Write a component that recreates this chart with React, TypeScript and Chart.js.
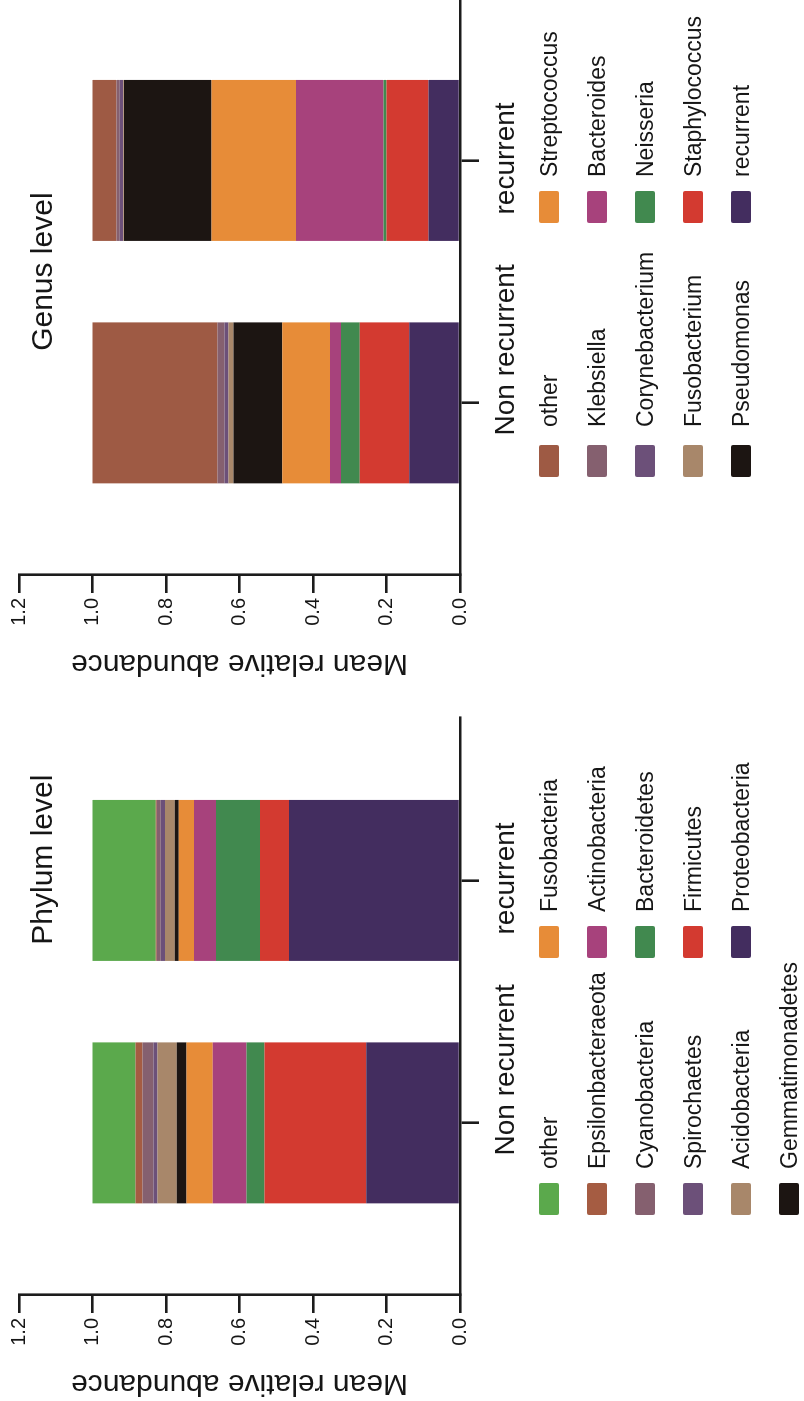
import React, { useEffect, useRef } from 'react';
import { Chart, registerables } from 'chart.js';

Chart.register(...registerables);

// ---------- data ----------
const CATEGORIES = ['Non recurrent', 'recurrent'];
const VALUE_TICKS = [0, 0.2, 0.4, 0.6, 0.8, 1.0, 1.2];

// stacked from the bottom (0) upwards
const PHYLUM_NAMES = [
  'Proteobacteria', 'Firmicutes', 'Bacteroidetes', 'Actinobacteria', 'Fusobacteria',
  'Gemmatimonadetes', 'Acidobacteria', 'Spirochaetes', 'Cyanobacteria', 'Epsilonbacteraeota', 'other',
];
const PHYLUM_NON_RECURRENT = [0.255, 0.277, 0.049, 0.092, 0.071, 0.027, 0.052, 0.011, 0.030, 0.019, 0.117];
const PHYLUM_RECURRENT = [0.465, 0.079, 0.120, 0.060, 0.041, 0.011, 0.027, 0.011, 0.011, 0.003, 0.172];
const PHYLUM_COLORS = [
  '#432d5f', '#d33a30', '#41894f', '#a7427c', '#e78c38',
  '#1c1512', '#a8876a', '#6c5079', '#85606f', '#a55c42', '#5ba94c',
];

const GENUS_NAMES = [
  'recurrent', 'Staphylococcus', 'Neisseria', 'Bacteroides', 'Streptococcus',
  'Pseudomonas', 'Fusobacterium', 'Corynebacterium', 'Klebsiella', 'other',
];
const GENUS_NON_RECURRENT = [0.138, 0.135, 0.051, 0.030, 0.130, 0.132, 0.014, 0.011, 0.019, 0.340];
const GENUS_RECURRENT = [0.086, 0.114, 0.008, 0.238, 0.230, 0.238, 0.002, 0.010, 0.009, 0.065];
const GENUS_COLORS = [
  '#432d5f', '#d33a30', '#41894f', '#a7427c', '#e78c38',
  '#1c1512', '#a8876a', '#6c5079', '#85606f', '#9e5a44',
];

// ---------- style ----------
const FAMILY = "'Liberation Sans', Arial, Helvetica, sans-serif";
const TEXT = '#161616';
const AXIS = '#1c1c1c';
const PANEL_W = 704;
const PANEL_H = 804;
const AREA_LEFT = 106;
const AREA_RIGHT = 683;
const AREA_TOP = 19;
const AREA_BOTTOM = 460;
const LABEL_SHIFT = [53, 2];

type PanelProps = {
  left: number;
  title: string;
  titleShift: number;
  names: string[];
  nonRec: number[];
  rec: number[];
  colors: string[];
  firstColumnCount: number;
  legendCols: { swatch: number; text: number }[];
};

function Panel(props: PanelProps) {
  const { left, title, titleShift, names, nonRec, rec, colors, firstColumnCount, legendCols } = props;
  const ref = useRef<HTMLCanvasElement>(null);

  useEffect(() => {
    const canvas = ref.current;
    if (!canvas) return;

    const overlay = {
      id: 'overlayText',
      afterDraw(chart: any) {
        const { ctx } = chart;
        const xs = chart.scales.x;
        ctx.save();
        ctx.fillStyle = TEXT;
        ctx.textAlign = 'center';
        ctx.textBaseline = 'alphabetic';
        ctx.font = `28px ${FAMILY}`;
        CATEGORIES.forEach((c, i) => {
          ctx.fillText(c, xs.getPixelForValue(i + 1) + LABEL_SHIFT[i], 514);
        });
        ctx.font = `30px ${FAMILY}`;
        const mid = (xs.getPixelForValue(1) + xs.getPixelForValue(2)) / 2;
        ctx.fillText(title, mid + titleShift, 52);
        ctx.restore();
      },
    };

    const chart = new Chart(canvas, {
      type: 'bar',
      data: {
        datasets: names.map((n, i) => ({
          label: n,
          data: [
            { x: 1, y: nonRec[i] },
            { x: 2, y: rec[i] },
          ],
          backgroundColor: colors[i],
          borderWidth: 0,
          categoryPercentage: 1,
          barPercentage: 0.664,
        })),
      },
      options: {
        responsive: false,
        animation: false,
        layout: { padding: { left: 0, right: PANEL_W - AREA_RIGHT, top: AREA_TOP, bottom: 0 } },
        plugins: { legend: { display: false }, tooltip: { enabled: false }, title: { display: false } },
        scales: {
          x: {
            type: 'linear',
            position: 'bottom',
            stacked: true,
            offset: false,
            min: 0.29,
            max: 2.67,
            afterBuildTicks: (s: any) => {
              s.ticks = CATEGORIES.map((_, i) => ({ value: i + 1 }));
            },
            afterFit: (s: any) => {
              s.height = PANEL_H - AREA_BOTTOM;
            },
            ticks: { display: false },
            grid: {
              display: true,
              offset: false,
              drawOnChartArea: false,
              drawTicks: true,
              tickLength: 19,
              color: AXIS,
              lineWidth: 2.6,
            },
            border: { display: true, color: AXIS, width: 2.6 },
          },
          y: {
            type: 'linear',
            position: 'left',
            stacked: true,
            min: 0,
            max: 1.2,
            afterBuildTicks: (s: any) => {
              s.ticks = VALUE_TICKS.map((v) => ({ value: v }));
            },
            afterFit: (s: any) => {
              s.width = AREA_LEFT;
            },
            ticks: {
              font: { family: FAMILY, size: 20 },
              color: TEXT,
              padding: 5,
              callback: (v: any) => Number(v).toFixed(1),
            },
            grid: {
              display: true,
              drawOnChartArea: false,
              drawTicks: true,
              tickLength: 18,
              color: AXIS,
              lineWidth: 2.6,
            },
            border: { display: true, color: AXIS, width: 2.6 },
            title: {
              display: true,
              text: 'Mean relative abundance',
              font: { family: FAMILY, size: 30, lineHeight: 1 },
              color: TEXT,
              padding: { top: 3, bottom: 0 },
            },
          },
        },
      } as any,
      plugins: [overlay],
    } as any);

    return () => chart.destroy();
  }, []);

  const items = names.map((n, i) => ({ name: n, color: colors[i] })).reverse();
  const columns = [items.slice(0, firstColumnCount), items.slice(firstColumnCount)];

  return (
    <div style={{ position: 'absolute', left, top: 0, width: PANEL_W, height: PANEL_H }}>
      <canvas ref={ref} width={PANEL_W} height={PANEL_H} style={{ display: 'block' }} />
      {columns.map((col, c) =>
        col.map((it, r) => (
          <React.Fragment key={`${c}-${r}`}>
            <div
              style={{
                position: 'absolute',
                left: legendCols[c].swatch,
                top: 539 + 48 * r,
                width: 32,
                height: 20,
                background: it.color,
                borderRadius: 2,
              }}
            />
            <div
              style={{
                position: 'absolute',
                left: legendCols[c].text,
                top: 538 + 48 * r,
                fontFamily: FAMILY,
                fontSize: 23,
                lineHeight: '23px',
                whiteSpace: 'nowrap',
                color: TEXT,
              }}
            >
              {it.name}
            </div>
          </React.Fragment>
        ))
      )}
    </div>
  );
}

export default function App() {
  return (
    <div
      style={{
        position: 'absolute',
        left: 0,
        top: 0,
        width: 804,
        height: 1401,
        overflow: 'hidden',
        background: '#ffffff',
      }}
    >
      <div
        style={{
          position: 'absolute',
          left: 0,
          top: 0,
          width: 1401,
          height: 804,
          transformOrigin: '0 0',
          transform: 'translateY(1401px) rotate(-90deg)',
        }}
      >
        <Panel
          left={0}
          title="Phylum level"
          titleShift={142}
          names={PHYLUM_NAMES}
          nonRec={PHYLUM_NON_RECURRENT}
          rec={PHYLUM_RECURRENT}
          colors={PHYLUM_COLORS}
          firstColumnCount={6}
          legendCols={[
            { swatch: 186, text: 232 },
            { swatch: 443, text: 489 },
          ]}
        />
        <Panel
          left={720}
          title="Genus level"
          titleShift={10}
          names={GENUS_NAMES}
          nonRec={GENUS_NON_RECURRENT}
          rec={GENUS_RECURRENT}
          colors={GENUS_COLORS}
          firstColumnCount={5}
          legendCols={[
            { swatch: 204, text: 254 },
            { swatch: 458, text: 504 },
          ]}
        />
      </div>
    </div>
  );
}
